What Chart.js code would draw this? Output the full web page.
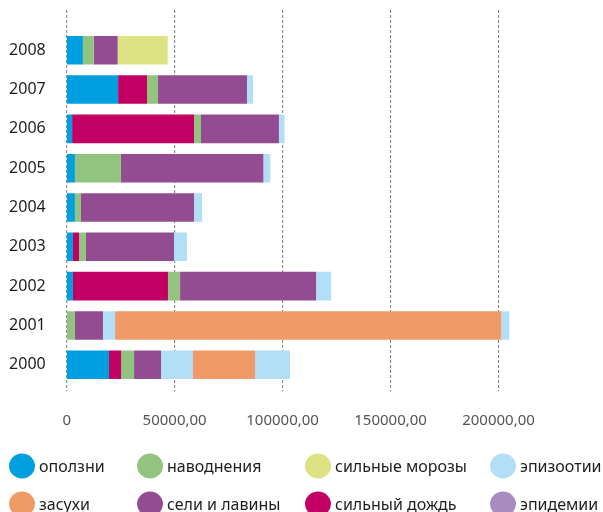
<!DOCTYPE html>
<html><head><meta charset="utf-8">
<script src="https://cdn.jsdelivr.net/npm/chart.js@4/dist/chart.umd.min.js"></script>
<style>
html,body{margin:0;padding:0;background:#fff;}
#wrap{position:relative;width:603px;height:512px;overflow:hidden;}
canvas{display:block;}
</style></head>
<body><div id="wrap"><canvas id="c" width="603" height="512"></canvas></div>
<script>
// ---- data ----
const years = ['2008','2007','2006','2005','2004','2003','2002','2001','2000'];
const landslides = [7500, 23800, 2500, 3800, 3800, 2900, 2900, 0, 19600];      // оползни
const heavyRain  = [0, 13400, 56500, 0, 0, 2800, 44000, 0, 5600];              // сильный дождь
const floods     = [5000, 5100, 3200, 21300, 2800, 3200, 5600, 3800, 6000];    // наводнения
const mudflows   = [11100, 41200, 36100, 66000, 52400, 40800, 63000, 13000, 12500]; // сели и лавины
const epizootics = [0, 2800, 2600, 3200, 3700, 6000, 7000, 5600, 14800];       // эпизоотии
const droughts   = [0, 0, 0, 0, 0, 0, 0, 178900, 28700];                       // засухи
const frosts     = [23200, 0, 0, 0, 0, 0, 0, 0, 0];                            // сильные морозы
const epidemics  = [0, 0, 0, 0, 0, 0, 0, 3700, 16200];                         // эпидемии
const xTicks = [0, 50000, 100000, 150000, 200000];

const seriesNames = ['оползни','сильный дождь','наводнения','сели и лавины','эпизоотии','засухи','сильные морозы','эпидемии'];
const seriesData  = [landslides, heavyRain, floods, mudflows, epizootics, droughts, frosts, epidemics];
const barColors   = ['#009FE0','#C20064','#93C47F','#934C92','#B2DFF5','#F29968','#DDE283','#B2DFF5'];

const legendNames  = ['оползни','наводнения','сильные морозы','эпизоотии','засухи','сели и лавины','сильный дождь','эпидемии'];
const legendColors = ['#009FE0','#93C47F','#DDE283','#B2DFF5','#F29968','#934C92','#C20064','#A98BBF'];

Chart.defaults.font.family = "'Noto Sans', sans-serif";

const gridPlugin = {
  id: 'dashGrid',
  beforeDatasetsDraw(chart) {
    const xs = chart.scales.x, ctx = chart.ctx;
    ctx.save();
    ctx.strokeStyle = '#7a7a7a';
    ctx.lineWidth = 1;
    ctx.setLineDash([3, 2]);
    xTicks.forEach(v => {
      const x = xs.getPixelForValue(v);
      ctx.beginPath();
      ctx.moveTo(x, 10);
      ctx.lineTo(x, 391);
      ctx.stroke();
    });
    ctx.restore();
  }
};

const legendPlugin = {
  id: 'customLegend',
  afterDraw(chart) {
    const ctx = chart.ctx;
    const colX = [9, 137, 305, 490];
    const rowY = [466, 504];
    ctx.save();
    ctx.font = "16px 'Noto Sans', sans-serif";
    ctx.textBaseline = 'alphabetic';
    ctx.textAlign = 'left';
    legendNames.forEach((name, i) => {
      const col = i % 4, row = Math.floor(i / 4);
      const cx = colX[col] + 13, cy = rowY[row];
      ctx.fillStyle = legendColors[i];
      ctx.beginPath();
      ctx.ellipse(cx, cy, 13, 12.5, 0, 0, Math.PI * 2);
      ctx.fill();
      ctx.fillStyle = '#1d1d1b';
      ctx.fillText(name, colX[col] + 30, cy + 2 + 4);
    });
    ctx.restore();
  }
};

new Chart(document.getElementById('c'), {
  type: 'bar',
  data: {
    labels: years,
    datasets: seriesNames.map((n, i) => ({
      label: n,
      data: seriesData[i],
      backgroundColor: barColors[i],
      borderWidth: 0,
      barPercentage: 0.727,
      categoryPercentage: 1
    }))
  },
  options: {
    indexAxis: 'y',
    responsive: false,
    animation: false,
    devicePixelRatio: 1,
    layout: { padding: { left: 0, right: 3, top: 25.5, bottom: 0 } },
    plugins: { legend: { display: false }, tooltip: { enabled: false } },
    scales: {
      x: {
        type: 'linear',
        stacked: true,
        min: 0,
        max: 247000,
        grid: { display: false, drawTicks: false },
        border: { display: false },
        afterBuildTicks: s => { s.ticks = xTicks.map(v => ({ value: v })); },
        afterFit: s => { s.height = 512 - 384.4; },
        ticks: {
          padding: 27,
          color: '#555555',
          font: { size: 15 },
          maxRotation: 0,
          callback: v => v === 0 ? '0' : v + ',00'
        }
      },
      y: {
        type: 'category',
        stacked: true,
        grid: { display: false, drawTicks: false },
        border: { display: false },
        afterFit: s => { s.width = 66.7; },
        ticks: { padding: 21, color: '#1d1d1b', font: { size: 16 } }
      }
    }
  },
  plugins: [gridPlugin, legendPlugin]
});
</script>
</body></html>
